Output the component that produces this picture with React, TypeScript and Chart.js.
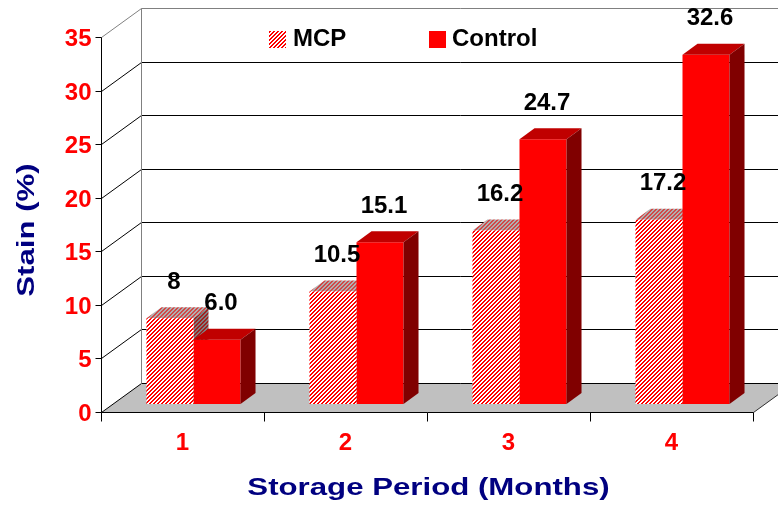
import React, { useEffect, useRef } from 'react';
import { Chart, registerables } from 'chart.js';

Chart.register(...registerables);

const categories = ['1', '2', '3', '4'];
const seriesNames = ['MCP', 'Control'];
const mcpValues = [8, 10.5, 16.2, 17.2];
const controlValues = [6.0, 15.1, 24.7, 32.6];
const mcpLabels = ['8', '10.5', '16.2', '17.2'];
const controlLabels = ['6.0', '15.1', '24.7', '32.6'];
const yTicks = [0, 5, 10, 15, 20, 25, 30, 35];
const yMax = 35;
const xTitle = 'Storage Period (Months)';
const yTitle = 'Stain (%)';

const W = 778;
const H = 505;
// offsets relative to the bar plane (chart area)
const FRONT = { dx: -11, dy: 8 };
const BACK = { dx: 29, dy: -21 };
const BAR_D = { dx: 15, dy: -11 };

const FONT = 'bold 24px "Liberation Sans", Arial, sans-serif';
const RED = '#ff0000';
const NAVY = '#000080';

function makePattern(ctx: CanvasRenderingContext2D, c1: string, c2: string) {
  const cv = document.createElement('canvas');
  cv.width = 4;
  cv.height = 4;
  const g = cv.getContext('2d')!;
  for (let yy = 0; yy < 4; yy++) {
    for (let xx = 0; xx < 4; xx++) {
      g.fillStyle = (xx + yy) % 4 < 2 ? c1 : c2;
      g.fillRect(xx, yy, 1, 1);
    }
  }
  return ctx.createPattern(cv, 'repeat')!;
}

function poly(ctx: CanvasRenderingContext2D, pts: number[][], fill: any) {
  ctx.beginPath();
  ctx.moveTo(pts[0][0], pts[0][1]);
  for (let i = 1; i < pts.length; i++) ctx.lineTo(pts[i][0], pts[i][1]);
  ctx.closePath();
  ctx.fillStyle = fill;
  ctx.fill();
}

function line(ctx: CanvasRenderingContext2D, pts: number[][], color: string) {
  ctx.beginPath();
  ctx.moveTo(pts[0][0], pts[0][1]);
  for (let i = 1; i < pts.length; i++) ctx.lineTo(pts[i][0], pts[i][1]);
  ctx.strokeStyle = color;
  ctx.lineWidth = 1;
  ctx.stroke();
}

function barFaces(ctx: CanvasRenderingContext2D, el: any, topFill: any, sideFill: any) {
  const p = el.getProps(['x', 'y', 'base', 'width'], true);
  const l = p.x - p.width / 2;
  const r = p.x + p.width / 2;
  const t = p.y;
  const b = p.base;
  poly(ctx, [[l, t], [r, t], [r + BAR_D.dx, t + BAR_D.dy], [l + BAR_D.dx, t + BAR_D.dy]], topFill);
  poly(ctx, [[r, t], [r + BAR_D.dx, t + BAR_D.dy], [r + BAR_D.dx, b + BAR_D.dy], [r, b]], sideFill);
}

export default function App() {
  const ref = useRef<HTMLCanvasElement>(null);

  useEffect(() => {
    const canvas = ref.current!;
    const c2d = canvas.getContext('2d')!;
    const mcpFront = makePattern(c2d, '#ff0000', '#ffffff');
    const mcpTop = makePattern(c2d, '#d04848', '#b0b0b0');
    const mcpSide = makePattern(c2d, '#a02020', '#808080');

    const scene = {
      id: 'scene3d',
      beforeDatasetsDraw(chart: any) {
        const { ctx, chartArea: a, scales } = chart;
        const xs = scales.x;
        const ys = scales.y;
        const fy = (v: number) => Math.round(ys.getPixelForValue(v) + FRONT.dy) + 0.5;
        const left = Math.round(a.left + FRONT.dx) + 0.5;
        const right = Math.round(a.right + FRONT.dx) + 0.5;
        const bdx = BACK.dx - FRONT.dx;
        const bdy = BACK.dy - FRONT.dy;
        const bottom = fy(0);
        ctx.save();

        // floor
        poly(ctx, [[left, bottom], [right, bottom], [right + bdx, bottom + bdy], [left + bdx, bottom + bdy]], '#c0c0c0');

        // walls gridlines
        yTicks.forEach((t) => {
          const py = fy(t);
          const col = t === yMax ? '#808080' : '#000000';
          line(ctx, [[left, py], [left + bdx, py + bdy], [W + 50, py + bdy]], col);
        });
        line(ctx, [[left + bdx, fy(0) + bdy], [left + bdx, fy(yMax) + bdy]], '#808080');
        line(ctx, [[right, bottom], [right + bdx, bottom + bdy]], '#303030');

        // front value axis
        line(ctx, [[left, fy(yMax)], [left, bottom]], '#000000');
        ctx.font = FONT;
        ctx.fillStyle = RED;
        ctx.textAlign = 'right';
        ctx.textBaseline = 'middle';
        yTicks.forEach((t) => {
          const py = fy(t);
          line(ctx, [[left - 6, py], [left, py]], '#000000');
          ctx.fillStyle = RED;
          ctx.fillText(String(t), left - 10, py + 2);
        });

        // category axis
        line(ctx, [[left, bottom], [right, bottom]], '#000000');
        const step = xs.getPixelForValue(1) - xs.getPixelForValue(0);
        for (let i = 0; i <= categories.length; i++) {
          const bx = Math.round(xs.getPixelForValue(0) - step / 2 + i * step + FRONT.dx) + 0.5;
          line(ctx, [[bx, bottom], [bx, bottom + 9]], '#000000');
        }
        ctx.textAlign = 'center';
        ctx.textBaseline = 'middle';
        categories.forEach((c, i) => {
          ctx.fillStyle = RED;
          ctx.fillText(c, xs.getPixelForValue(i) + FRONT.dx, bottom + 31);
        });

        // titles
        ctx.fillStyle = NAVY;
        ctx.save();
        ctx.translate((left + right) / 2 + 1, 495);
        ctx.scale(1.3, 1);
        ctx.textBaseline = 'alphabetic';
        ctx.fillText(xTitle, 0, 0);
        ctx.restore();
        ctx.save();
        ctx.translate(34, (fy(yMax) + bottom) / 2 + 5);
        ctx.rotate(-Math.PI / 2);
        ctx.scale(1.3, 1);
        ctx.textBaseline = 'alphabetic';
        ctx.fillText(yTitle, 0, 0);
        ctx.restore();

        // legend
        ctx.textAlign = 'left';
        ctx.textBaseline = 'middle';
        ctx.fillStyle = mcpFront;
        ctx.fillRect(269, 31, 17, 17);
        ctx.fillStyle = '#000000';
        ctx.fillText(seriesNames[0], 293, 39);
        ctx.fillStyle = RED;
        ctx.fillRect(429, 31, 17, 17);
        ctx.fillStyle = '#000000';
        ctx.fillText(seriesNames[1], 452, 39);

        // MCP 3D faces (behind Control fronts)
        chart.getDatasetMeta(0).data.forEach((el: any) => barFaces(ctx, el, mcpTop, mcpSide));
        ctx.restore();
      },
      afterDatasetsDraw(chart: any) {
        const { ctx } = chart;
        ctx.save();
        chart.getDatasetMeta(1).data.forEach((el: any) => barFaces(ctx, el, '#c00000', '#800000'));
        ctx.font = FONT;
        ctx.fillStyle = '#000000';
        ctx.textAlign = 'center';
        ctx.textBaseline = 'middle';
        const lbls = [mcpLabels, controlLabels];
        [0, 1].forEach((d) => {
          chart.getDatasetMeta(d).data.forEach((el: any, i: number) => {
            const p = el.getProps(['x', 'y'], true);
            ctx.fillText(lbls[d][i], p.x + 4, p.y + BAR_D.dy - 25);
          });
        });
        ctx.restore();
      },
    };

    const chart = new Chart(canvas, {
      type: 'bar',
      data: {
        labels: categories,
        datasets: [
          {
            label: seriesNames[0],
            data: mcpValues,
            backgroundColor: mcpFront as any,
            borderWidth: 0,
            categoryPercentage: 0.577,
            barPercentage: 1,
          },
          {
            label: seriesNames[1],
            data: controlValues,
            backgroundColor: RED,
            borderWidth: 0,
            categoryPercentage: 0.577,
            barPercentage: 1,
          },
        ],
      },
      options: {
        responsive: false,
        animation: false,
        devicePixelRatio: 1,
        events: [],
        layout: { padding: { left: 112, right: 14, top: 29, bottom: 101 } },
        scales: {
          x: { display: false },
          y: { display: false, min: 0, max: yMax },
        },
        plugins: {
          legend: { display: false },
          tooltip: { enabled: false },
          title: { display: false },
        },
      },
      plugins: [scene],
    });
    return () => chart.destroy();
  }, []);

  return (
    <div style={{ position: 'fixed', left: 0, top: 0, width: W, height: H, background: '#fff' }}>
      <canvas ref={ref} width={W} height={H} style={{ display: 'block', width: W, height: H }} />
    </div>
  );
}
